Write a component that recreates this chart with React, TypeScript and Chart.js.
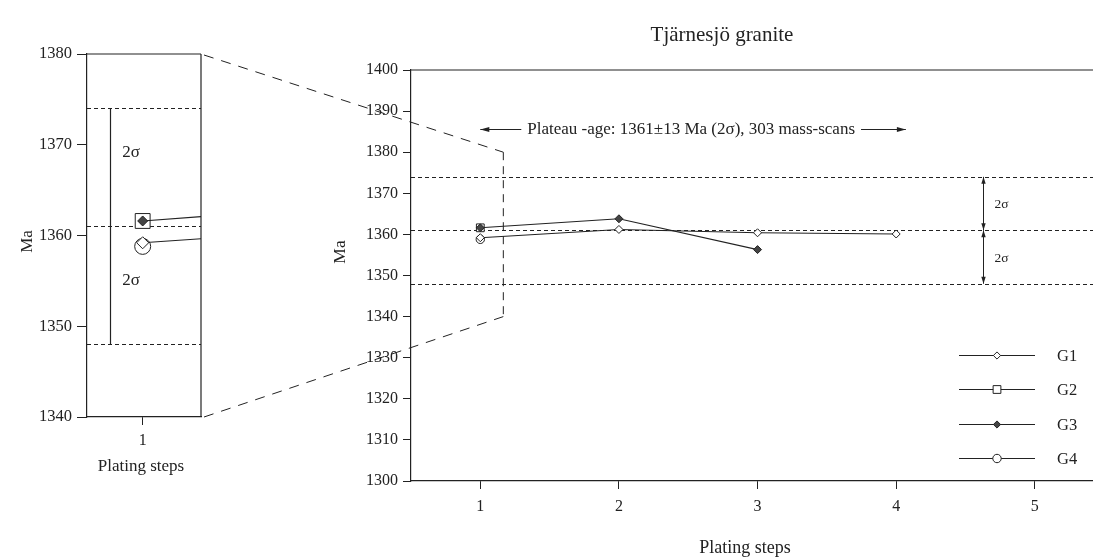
import { useEffect, useRef } from 'react';
import { Chart, registerables } from 'chart.js';

Chart.register(...registerables);

const FONT = '"Liberation Serif", "Times New Roman", serif';
const INK = '#222222';

const CHART_TITLE = 'Tjärnesjö granite';
const X_TITLE = 'Plating steps';
const Y_TITLE = 'Ma';
const PLATEAU_LABEL = 'Plateau -age: 1361±13 Ma (2σ), 303 mass-scans';
const SIGMA_LABEL = '2σ';

const X_TICKS = [1, 2, 3, 4, 5];
const Y_TICKS_MAIN = [1300, 1310, 1320, 1330, 1340, 1350, 1360, 1370, 1380, 1390, 1400];
const INSET_X_TICKS = [1];
const Y_TICKS_INSET = [1340, 1350, 1360, 1370, 1380];

const SERIES_NAMES = ['G1', 'G2', 'G3', 'G4'];
const G1_STEPS = [1, 2, 3, 4];
const G1_AGES = [1359.2, 1361.2, 1360.4, 1360.1];
const G2_STEPS = [1];
const G2_AGES = [1361.6];
const G3_STEPS = [1, 2, 3];
const G3_AGES = [1361.6, 1363.8, 1356.3];
const G4_STEPS = [1];
const G4_AGES = [1358.8];

const PLATEAU_AGE = 1361;
const PLATEAU_ERR = 13;
const PLATEAU_ARROW_FROM = 1.0;
const PLATEAU_ARROW_TO = 4.07;
const PLATEAU_LABEL_AGE = 1385.6;
const ERROR_BAR_STEP = 4.63;
const ZOOM_STEP = 1.166;
const ZOOM_AGE_TOP = 1380;
const ZOOM_AGE_BOTTOM = 1340;
const INSET_BAR_STEP = 0.877;
const INSET_LABEL_STEP = 0.956;
const INSET_LABEL_AGES = [1369.1, 1355];

type Marker = 'rectRot' | 'rect' | 'circle';
const MARKERS: Marker[] = ['rectRot', 'rect', 'rectRot', 'circle'];
const MARKER_FILLED = [false, false, true, false];

function pts(xs: number[], ys: number[]) {
  return xs.map((x, i) => ({ x, y: ys[i] }));
}

function makeDatasets(big: boolean) {
  const data = [pts(G1_STEPS, G1_AGES), pts(G2_STEPS, G2_AGES), pts(G3_STEPS, G3_AGES), pts(G4_STEPS, G4_AGES)];
  const radiiBig = [6, 10.5, 5, 8];
  const radiiSmall = [4, 5.5, 4, 4.2];
  const orders = [1, 2, 0, 3];
  return SERIES_NAMES.map((name, i) => ({
    label: name,
    data: data[i],
    borderColor: INK,
    borderWidth: 1.1,
    backgroundColor: '#fff',
    pointStyle: MARKERS[i],
    pointRadius: big ? radiiBig[i] : radiiSmall[i],
    pointBackgroundColor: MARKER_FILLED[i] ? '#444' : '#fff',
    pointBorderColor: INK,
    pointBorderWidth: 1,
    fill: false,
    tension: 0,
    order: orders[i],
  }));
}

function seg(ctx: CanvasRenderingContext2D, x1: number, y1: number, x2: number, y2: number) {
  ctx.beginPath();
  ctx.moveTo(x1, y1);
  ctx.lineTo(x2, y2);
  ctx.stroke();
}

function head(ctx: CanvasRenderingContext2D, x1: number, y1: number, x2: number, y2: number, len = 8, half = 2.6) {
  const a = Math.atan2(y2 - y1, x2 - x1);
  ctx.beginPath();
  ctx.moveTo(x2, y2);
  ctx.lineTo(x2 - len * Math.cos(a) + half * Math.sin(a), y2 - len * Math.sin(a) - half * Math.cos(a));
  ctx.lineTo(x2 - len * Math.cos(a) - half * Math.sin(a), y2 - len * Math.sin(a) + half * Math.cos(a));
  ctx.closePath();
  ctx.fill();
}

function txt(ctx: CanvasRenderingContext2D, s: string, x: number, y: number, size: number, align: CanvasTextAlign = 'center', rot = 0) {
  ctx.save();
  ctx.font = `${size}px ${FONT}`;
  ctx.fillStyle = INK;
  ctx.textAlign = align;
  ctx.textBaseline = 'middle';
  ctx.translate(x, y);
  if (rot) ctx.rotate(rot);
  ctx.fillText(s, 0, 0);
  ctx.restore();
}

function marker(ctx: CanvasRenderingContext2D, style: Marker, x: number, y: number, r: number, filled: boolean) {
  ctx.save();
  ctx.setLineDash([]);
  ctx.fillStyle = filled ? '#444' : '#fff';
  ctx.strokeStyle = INK;
  ctx.lineWidth = 1;
  ctx.beginPath();
  if (style === 'circle') ctx.arc(x, y, r, 0, Math.PI * 2);
  else if (style === 'rect') {
    const s = r * Math.SQRT1_2;
    ctx.rect(x - s, y - s, 2 * s, 2 * s);
  } else {
    ctx.moveTo(x, y - r);
    ctx.lineTo(x + r, y);
    ctx.lineTo(x, y + r);
    ctx.lineTo(x - r, y);
    ctx.closePath();
  }
  ctx.fill();
  ctx.stroke();
  ctx.restore();
}

function plateauLines(chart: any, dash: number[]) {
  const { ctx, chartArea: a, scales } = chart;
  const y = scales.y;
  ctx.save();
  ctx.strokeStyle = INK;
  ctx.lineWidth = 1;
  ctx.setLineDash(dash);
  for (const v of [PLATEAU_AGE + PLATEAU_ERR, PLATEAU_AGE, PLATEAU_AGE - PLATEAU_ERR]) {
    const py = Math.round(y.getPixelForValue(v)) + 0.5;
    seg(ctx, a.left, py, a.right, py);
  }
  ctx.restore();
}

function axisOpts(min: number, max: number, ticks: number[], size: number, tickLength: number, padding: number, fitSize: number, isX: boolean) {
  return {
    type: 'linear' as const,
    min,
    max,
    afterBuildTicks: (s: any) => {
      s.ticks = ticks.map((v) => ({ value: v }));
    },
    afterFit: (s: any) => {
      if (isX) s.height = fitSize;
      else s.width = fitSize;
    },
    ticks: {
      color: INK,
      font: { family: FONT, size },
      padding,
      maxRotation: 0,
      autoSkip: false,
      callback: (v: any) => String(v),
    },
    grid: { display: true, drawOnChartArea: false, drawTicks: true, tickLength, color: INK, lineWidth: 1 },
    border: { display: true, color: INK, width: 1.2 },
  };
}

export default function App() {
  const mainRef = useRef<HTMLCanvasElement>(null);
  const insetRef = useRef<HTMLCanvasElement>(null);

  useEffect(() => {
    if (!mainRef.current || !insetRef.current) return;

    const insetDecor = {
      id: 'insetDecor',
      beforeDatasetsDraw(chart: any) {
        plateauLines(chart, [4, 3]);
        const { ctx, chartArea: a, scales } = chart;
        const { x, y } = scales;
        ctx.save();
        ctx.strokeStyle = INK;
        ctx.lineWidth = 1.2;
        const bx = Math.round(x.getPixelForValue(INSET_BAR_STEP)) + 0.5;
        seg(ctx, bx, y.getPixelForValue(PLATEAU_AGE + PLATEAU_ERR), bx, y.getPixelForValue(PLATEAU_AGE - PLATEAU_ERR));
        seg(ctx, a.left, a.top, a.right, a.top);
        seg(ctx, a.right, a.top, a.right, a.bottom);
        ctx.restore();
        const lx = x.getPixelForValue(INSET_LABEL_STEP);
        for (const v of INSET_LABEL_AGES) txt(ctx, SIGMA_LABEL, lx, y.getPixelForValue(v), 17);
      },
      afterDraw(chart: any) {
        const { ctx, chartArea: a } = chart;
        txt(ctx, Y_TITLE, 28, (a.top + a.bottom) / 2 + 6, 17, 'center', -Math.PI / 2);
        txt(ctx, X_TITLE, (a.left + a.right) / 2 - 3, 467, 17);
      },
    };

    const inset = new Chart(insetRef.current, {
      type: 'line',
      data: { datasets: makeDatasets(true) as any },
      options: {
        responsive: false,
        animation: false,
        events: [],
        layout: { autoPadding: false, padding: { left: 27, top: 54, right: 39, bottom: 100 } },
        plugins: { legend: { display: false }, tooltip: { enabled: false }, title: { display: false } },
        scales: {
          x: axisOpts(0.79, 1.22, INSET_X_TICKS, 16, 8, 6, 40, true),
          y: axisOpts(1340, 1380, Y_TICKS_INSET, 16.5, 10, 5, 60, false),
        } as any,
      },
      plugins: [insetDecor],
    });

    const mainDecor = {
      id: 'mainDecor',
      beforeDatasetsDraw(chart: any) {
        plateauLines(chart, [4, 3]);
        const { ctx, scales } = chart;
        const { x, y } = scales;
        ctx.save();
        ctx.strokeStyle = INK;
        ctx.lineWidth = 1;
        const zx = x.getPixelForValue(ZOOM_STEP);
        const zt = y.getPixelForValue(ZOOM_AGE_TOP);
        const zb = y.getPixelForValue(ZOOM_AGE_BOTTOM);
        ctx.setLineDash([8, 6]);
        seg(ctx, zx, zt, zx, zb);
        const ia = inset.chartArea;
        if (ia) {
          ctx.setLineDash([10, 8]);
          seg(ctx, ia.right + 3, ia.top + 1, zx, zt);
          seg(ctx, ia.right + 3, ia.bottom, zx, zb);
        }
        ctx.restore();
      },
      afterDraw(chart: any) {
        const { ctx, chartArea: a, scales } = chart;
        const { x, y } = scales;
        ctx.save();
        ctx.strokeStyle = INK;
        ctx.fillStyle = INK;
        ctx.lineWidth = 1.2;
        seg(ctx, a.left, a.top, a.right, a.top);
        ctx.lineWidth = 1;

        const ex = Math.round(x.getPixelForValue(ERROR_BAR_STEP)) + 0.5;
        const yTop = y.getPixelForValue(PLATEAU_AGE + PLATEAU_ERR);
        const yMid = y.getPixelForValue(PLATEAU_AGE);
        const yBot = y.getPixelForValue(PLATEAU_AGE - PLATEAU_ERR);
        for (const [p, q] of [[yTop, yMid], [yMid, yBot]]) {
          seg(ctx, ex, p, ex, q);
          head(ctx, ex, q, ex, p, 7, 2.2);
          head(ctx, ex, p, ex, q, 7, 2.2);
        }
        ctx.restore();
        txt(ctx, SIGMA_LABEL, ex + 11, (yTop + yMid) / 2 + 1, 13.5, 'left');
        txt(ctx, SIGMA_LABEL, ex + 11, (yMid + yBot) / 2 + 1, 13.5, 'left');

        const py = y.getPixelForValue(PLATEAU_LABEL_AGE);
        const xl = x.getPixelForValue(PLATEAU_ARROW_FROM);
        const xr = x.getPixelForValue(PLATEAU_ARROW_TO);
        ctx.save();
        ctx.font = `17px ${FONT}`;
        const w = ctx.measureText(PLATEAU_LABEL).width;
        const tl = xl + 47;
        ctx.restore();
        txt(ctx, PLATEAU_LABEL, tl, py, 17, 'left');
        ctx.save();
        ctx.strokeStyle = INK;
        ctx.fillStyle = INK;
        ctx.lineWidth = 1;
        const ay = Math.round(py) + 0.5;
        seg(ctx, tl - 6, ay, xl, ay);
        head(ctx, tl - 6, ay, xl, ay, 9, 2.4);
        seg(ctx, tl + w + 6, ay, xr, ay);
        head(ctx, tl + w + 6, ay, xr, ay, 9, 2.4);
        ctx.restore();

        const lx1 = a.right - 134;
        const lx2 = a.right - 58;
        const mx = a.right - 96;
        const radii = [3.6, 5.5, 3.6, 4.2];
        SERIES_NAMES.forEach((name, i) => {
          const ly = Math.round(a.bottom - 126 + i * 34.3) + 0.5;
          ctx.save();
          ctx.strokeStyle = INK;
          ctx.lineWidth = 1;
          seg(ctx, lx1, ly, lx2, ly);
          ctx.restore();
          marker(ctx, MARKERS[i], mx, ly, radii[i], MARKER_FILLED[i]);
          txt(ctx, name, a.right - 36, ly + 1, 16.5, 'left');
        });

        txt(ctx, CHART_TITLE, 722, 35, 21);
        txt(ctx, Y_TITLE, 340, 252, 17.5, 'center', -Math.PI / 2);
        txt(ctx, X_TITLE, 745, 548, 18);
      },
    };

    const main = new Chart(mainRef.current, {
      type: 'line',
      data: { datasets: makeDatasets(false) as any },
      options: {
        responsive: false,
        animation: false,
        events: [],
        layout: { autoPadding: false, padding: { left: 351, top: 70, right: 0, bottom: 36 } },
        plugins: { legend: { display: false }, tooltip: { enabled: false }, title: { display: false } },
        scales: {
          x: axisOpts(0.5, 5.42, X_TICKS, 16, 8, 8, 40, true),
          y: axisOpts(1300, 1400, Y_TICKS_MAIN, 16, 8, 5, 60, false),
        } as any,
      },
      plugins: [mainDecor],
    });

    return () => {
      main.destroy();
      inset.destroy();
    };
  }, []);

  return (
    <div style={{ position: 'absolute', left: 0, top: 0, width: 1093, height: 557, background: '#fff', overflow: 'hidden' }}>
      <canvas ref={insetRef} width={240} height={557} style={{ position: 'absolute', left: 0, top: 0 }} />
      <canvas ref={mainRef} width={1093} height={557} style={{ position: 'absolute', left: 0, top: 0 }} />
    </div>
  );
}
